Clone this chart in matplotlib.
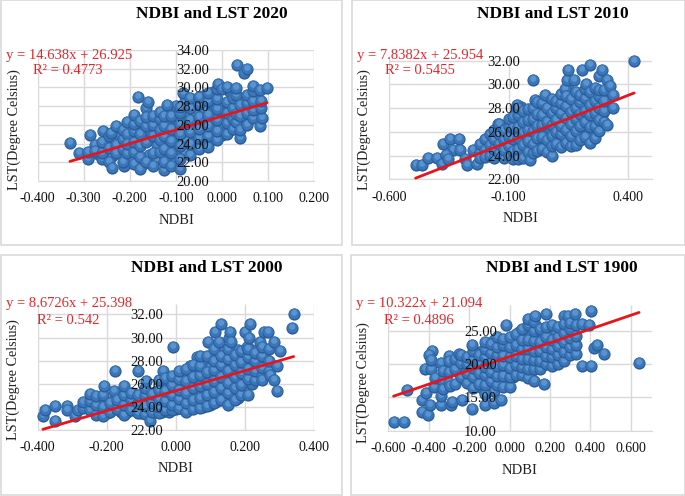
import matplotlib
matplotlib.use("Agg")
from matplotlib import pyplot as plt
from matplotlib.markers import MarkerStyle
from matplotlib.patches import Rectangle
from matplotlib.transforms import Affine2D

plt.rcParams["font.family"] = ["Liberation Serif", "DejaVu Serif"]

W, H = 685, 496

# values (NDBI, LST)
# inner_* = the packed middle of each cloud, drawn first; pts_* = the points that show clearly
inner_2020 = [
    (-0.27, 22.9), (-0.252, 23.9), (-0.238, 22.7), (-0.222, 24.8), (-0.212, 21.6), (-0.198, 22.5), (-0.197, 24.7),
    (-0.184, 23.6), (-0.171, 21.8), (-0.172, 24.6), (-0.172, 26.0), (-0.158, 22.8), (-0.157, 25.2), (-0.143, 22.2),
    (-0.142, 23.8), (-0.143, 26.2), (-0.13, 25.0), (-0.117, 22.4), (-0.118, 24.1), (-0.117, 26.4), (-0.117, 27.5),
    (-0.101, 21.9), (-0.1, 23.2), (-0.1, 24.6), (-0.1, 25.5), (-0.1, 26.6), (-0.1, 28.0), (-0.081, 23.0), (-0.08, 24.4),
    (-0.08, 25.7), (-0.08, 27.0), (-0.08, 28.5), (-0.06, 23.5), (-0.06, 24.9), (-0.06, 26.2), (-0.06, 27.3),
    (-0.06, 28.6), (-0.04, 24.1), (-0.04, 25.3), (-0.04, 26.4), (-0.04, 27.7), (-0.04, 29.1), (-0.02, 24.5),
    (-0.02, 25.6), (-0.02, 26.9), (-0.02, 28.2), (-0.02, 29.5), (0.0, 24.9), (0.0, 26.0), (0.0, 27.1), (0.0, 28.2),
    (0.018, 25.4), (0.018, 27.0), (0.018, 28.2), (0.018, 29.5), (0.035, 25.9), (0.035, 27.5), (0.035, 28.7),
    (0.048, 26.4), (0.048, 27.7), (0.048, 28.9), (0.062, 27.0), (0.062, 28.1), (0.075, 27.2), (0.075, 28.2), (0.075, 29.2),
]
pts_2020 = [
    (-0.33, 24.1), (-0.31, 23.0), (-0.29, 22.4), (-0.29, 23.1), (-0.287, 24.9), (-0.275, 23.8), (-0.275, 23.2),
    (-0.26, 22.4), (-0.26, 23.0), (-0.258, 25.3), (-0.26, 24.2), (-0.245, 22.0), (-0.245, 23.5), (-0.245, 24.8),
    (-0.24, 25.1), (-0.238, 21.4), (-0.23, 23.8), (-0.23, 25.9), (-0.23, 23.0), (-0.215, 22.0), (-0.215, 24.5),
    (-0.215, 25.4), (-0.215, 23.4), (-0.205, 26.3), (-0.205, 23.0), (-0.205, 25.0), (-0.205, 24.0), (-0.19, 21.8),
    (-0.19, 23.1), (-0.19, 24.2), (-0.19, 25.3), (-0.19, 26.1), (-0.19, 27.1), (-0.178, 21.3), (-0.178, 22.6),
    (-0.178, 23.7), (-0.178, 25.0), (-0.178, 26.4), (-0.182, 29.0), (-0.165, 22.0), (-0.165, 24.2), (-0.165, 25.9),
    (-0.165, 27.8), (-0.165, 26.8), (-0.16, 28.4), (-0.15, 21.6), (-0.15, 23.0), (-0.15, 24.8), (-0.15, 26.0),
    (-0.15, 26.9), (-0.135, 23.1), (-0.135, 24.4), (-0.135, 25.4), (-0.135, 26.6), (-0.135, 27.4), (-0.125, 21.2),
    (-0.125, 22.0), (-0.125, 23.4), (-0.125, 24.8), (-0.125, 25.9), (-0.125, 26.9), (-0.12, 28.1), (-0.11, 21.6),
    (-0.11, 23.0), (-0.11, 24.3), (-0.11, 25.6), (-0.11, 26.9), (-0.09, 21.3), (-0.09, 22.4), (-0.09, 23.7),
    (-0.09, 25.0), (-0.09, 26.1), (-0.09, 27.3), (-0.09, 27.9), (-0.085, 29.4), (-0.07, 22.8), (-0.07, 24.0),
    (-0.07, 25.2), (-0.07, 26.5), (-0.07, 27.8), (-0.07, 28.9), (-0.05, 23.4), (-0.05, 24.6), (-0.05, 25.6),
    (-0.05, 26.8), (-0.05, 28.2), (-0.05, 29.0), (-0.03, 23.6), (-0.03, 24.8), (-0.03, 25.9), (-0.03, 27.1),
    (-0.03, 28.5), (-0.03, 29.4), (-0.01, 24.4), (-0.01, 25.3), (-0.01, 26.5), (-0.01, 27.7), (-0.01, 28.8),
    (-0.01, 29.8), (-0.008, 30.4), (0.0, 29.8), (0.01, 25.0), (0.01, 26.2), (0.01, 27.3), (0.01, 28.4), (0.01, 30.0),
    (0.025, 25.6), (0.025, 26.6), (0.025, 27.8), (0.025, 28.9), (0.03, 26.3), (0.03, 27.2), (0.03, 29.2), (0.03, 29.9),
    (0.033, 32.4), (0.04, 24.6), (0.04, 25.5), (0.04, 26.9), (0.04, 28.1), (0.047, 31.5), (0.055, 32.0), (0.055, 26.0),
    (0.055, 27.3), (0.055, 28.3), (0.055, 29.2), (0.068, 26.7), (0.068, 27.6), (0.068, 28.6), (0.068, 29.6),
    (0.068, 30.1), (0.082, 25.9), (0.086, 26.7), (0.085, 27.8), (0.085, 28.6), (0.082, 29.7), (0.098, 29.9),
]
inner_2010 = [
    (-0.21, 24.7), (-0.19, 24.3), (-0.19, 25.2), (-0.17, 24.3), (-0.17, 25.2), (-0.15, 24.6), (-0.15, 25.5),
    (-0.13, 24.1), (-0.13, 24.9), (-0.13, 25.8), (-0.11, 24.4), (-0.11, 25.2), (-0.11, 26.1), (-0.09, 24.1),
    (-0.09, 25.0), (-0.09, 25.9), (-0.09, 26.8), (-0.07, 24.1), (-0.07, 25.1), (-0.07, 26.0), (-0.07, 26.9),
    (-0.07, 27.6), (-0.05, 24.3), (-0.05, 25.2), (-0.05, 26.1), (-0.05, 27.1), (-0.05, 28.1), (-0.03, 24.4),
    (-0.03, 25.5), (-0.03, 26.5), (-0.03, 27.3), (-0.01, 24.8), (-0.01, 25.7), (-0.01, 26.7), (-0.01, 27.6),
    (0.01, 24.8), (0.01, 25.9), (0.01, 26.9), (0.01, 27.8), (0.03, 25.1), (0.03, 26.1), (0.03, 27.0), (0.03, 28.1),
    (0.05, 25.0), (0.05, 26.2), (0.05, 27.7), (0.07, 24.5), (0.07, 25.6), (0.07, 26.3), (0.07, 27.2), (0.07, 28.3),
    (0.09, 25.2), (0.09, 26.3), (0.09, 27.2), (0.09, 28.2), (0.11, 25.4), (0.11, 26.4), (0.11, 27.4), (0.11, 28.9),
    (0.13, 25.3), (0.13, 26.1), (0.13, 27.0), (0.13, 28.0), (0.13, 29.0), (0.15, 25.5), (0.15, 26.5), (0.15, 27.6),
    (0.15, 28.6), (0.15, 29.6), (0.17, 25.3), (0.17, 26.3), (0.17, 27.4), (0.17, 28.3), (0.17, 29.2), (0.19, 25.6),
    (0.19, 26.7), (0.19, 27.8), (0.19, 28.8), (0.21, 25.9), (0.21, 27.0), (0.21, 28.0), (0.21, 29.3), (0.23, 25.3),
    (0.23, 26.2), (0.23, 27.2), (0.23, 28.6), (0.25, 25.8), (0.25, 26.9), (0.25, 28.0), (0.25, 29.0), (0.27, 26.3),
    (0.27, 27.3), (0.27, 28.3), (0.27, 29.3), (0.29, 27.4), (0.29, 28.4), (0.29, 29.2),
]
pts_2010 = [
    (-0.49, 23.2), (-0.465, 23.2), (-0.44, 23.8), (-0.40, 23.8), (-0.38, 23.3), (-0.374, 24.95), (-0.346, 25.4),
    (-0.308, 25.4), (-0.335, 24.5), (-0.304, 24.5), (-0.363, 24.1), (-0.353, 23.7), (-0.283, 23.7), (-0.273, 23.2),
    (-0.232, 23.3), (-0.248, 24.5), (-0.22, 24.3), (-0.22, 25.0), (-0.22, 23.8), (-0.20, 25.4), (-0.20, 24.5),
    (-0.20, 23.9), (-0.18, 24.0), (-0.18, 24.9), (-0.18, 25.8), (-0.16, 23.8), (-0.16, 24.6), (-0.16, 25.4),
    (-0.16, 26.2), (-0.146, 26.7), (-0.14, 24.2), (-0.14, 25.0), (-0.14, 25.8), (-0.14, 26.7), (-0.12, 23.8),
    (-0.12, 24.5), (-0.12, 25.3), (-0.12, 26.2), (-0.10, 24.0), (-0.10, 24.8), (-0.10, 25.6), (-0.10, 26.5),
    (-0.10, 27.1), (-0.08, 23.7), (-0.08, 24.4), (-0.08, 25.4), (-0.08, 26.3), (-0.08, 27.3), (-0.067, 28.3),
    (-0.06, 23.7), (-0.06, 24.6), (-0.06, 25.5), (-0.06, 26.4), (-0.06, 27.4), (-0.06, 28.0), (-0.04, 23.8),
    (-0.04, 24.9), (-0.04, 25.9), (-0.04, 26.8), (-0.04, 27.8), (-0.02, 24.3), (-0.02, 25.2), (-0.02, 26.2),
    (-0.02, 27.0), (-0.02, 27.9), (-0.011, 23.6), (0.0, 30.4), (0.0, 24.2), (0.0, 25.0), (0.0, 26.1), (0.0, 27.1),
    (0.0, 28.0), (0.01, 28.7), (0.02, 24.4), (0.02, 25.5), (0.02, 26.5), (0.02, 27.5), (0.02, 28.5), (0.04, 24.6),
    (0.04, 25.6), (0.04, 26.6), (0.04, 27.4), (0.04, 28.4), (0.05, 29.1), (0.06, 24.3), (0.06, 25.3), (0.06, 26.8),
    (0.06, 28.0), (0.08, 24.0), (0.08, 24.8), (0.08, 25.7), (0.08, 26.6), (0.08, 27.6), (0.08, 28.8), (0.10, 25.0),
    (0.10, 26.0), (0.10, 27.0), (0.10, 28.0), (0.10, 28.6), (0.12, 24.7), (0.12, 25.8), (0.12, 26.5), (0.12, 27.6),
    (0.12, 28.4), (0.12, 29.2), (0.135, 29.6), (0.14, 25.1), (0.14, 26.2), (0.14, 27.2), (0.14, 28.2), (0.14, 29.0),
    (0.146, 30.4), (0.15, 31.2), (0.16, 24.8), (0.16, 25.7), (0.16, 26.7), (0.16, 27.7), (0.16, 28.8), (0.174, 30.4),
    (0.18, 24.9), (0.18, 26.1), (0.18, 27.1), (0.18, 28.0), (0.18, 29.4), (0.20, 25.3), (0.20, 26.5), (0.20, 27.5),
    (0.20, 28.5), (0.20, 29.1), (0.208, 31.2), (0.22, 25.6), (0.22, 26.8), (0.22, 27.8), (0.22, 28.9), (0.22, 29.6),
    (0.222, 30.0), (0.24, 31.6), (0.24, 25.1), (0.24, 26.4), (0.24, 27.4), (0.24, 28.3), (0.24, 29.4), (0.26, 25.5),
    (0.26, 26.5), (0.26, 27.6), (0.26, 28.6), (0.26, 29.7), (0.278, 30.7), (0.28, 26.1), (0.28, 27.0), (0.28, 28.0),
    (0.28, 29.0), (0.28, 29.5), (0.289, 31.2), (0.30, 26.8), (0.30, 27.8), (0.30, 28.6), (0.30, 29.5), (0.31, 26.6),
    (0.31, 30.4), (0.324, 29.9), (0.338, 29.1), (0.338, 28.0), (0.425, 32.0),
]
inner_2000 = [
    (-0.26, 24.2), (-0.24, 24.0), (-0.24, 24.7), (-0.22, 23.7), (-0.22, 24.5), (-0.20, 23.5), (-0.20, 24.4),
    (-0.18, 23.9), (-0.18, 24.6), (-0.16, 23.6), (-0.16, 24.3), (-0.16, 25.0), (-0.14, 23.6), (-0.14, 24.2),
    (-0.14, 24.9), (-0.12, 23.7), (-0.12, 24.4), (-0.12, 25.1), (-0.10, 23.5), (-0.10, 24.2), (-0.10, 24.8),
    (-0.08, 23.5), (-0.08, 24.2), (-0.08, 24.9), (-0.06, 23.6), (-0.06, 24.5), (-0.06, 25.3), (-0.04, 23.6),
    (-0.04, 24.3), (-0.04, 25.1), (-0.04, 26.0), (-0.02, 23.6), (-0.02, 24.7), (-0.02, 25.6), (-0.02, 26.3),
    (0.0, 23.8), (0.0, 24.5), (0.0, 25.3), (0.0, 26.2), (0.02, 23.8), (0.02, 24.6), (0.02, 25.6), (0.02, 26.7),
    (0.04, 23.8), (0.04, 24.8), (0.04, 25.8), (0.04, 26.9), (0.04, 27.5), (0.06, 24.1), (0.06, 25.1), (0.06, 26.2),
    (0.06, 27.2), (0.06, 28.3), (0.08, 24.0), (0.08, 24.9), (0.08, 25.9), (0.08, 26.9), (0.08, 27.8), (0.10, 24.2),
    (0.10, 25.2), (0.10, 26.2), (0.10, 27.4), (0.10, 28.3), (0.12, 24.5), (0.12, 25.4), (0.12, 26.5), (0.12, 27.5),
    (0.12, 28.5), (0.14, 24.9), (0.14, 25.9), (0.14, 26.9), (0.14, 27.9), (0.14, 28.9), (0.16, 24.9), (0.16, 25.9),
    (0.16, 26.9), (0.16, 27.9), (0.18, 24.8), (0.18, 25.8), (0.18, 26.8), (0.18, 27.8), (0.18, 28.9), (0.20, 25.3),
    (0.20, 26.3), (0.20, 27.4), (0.20, 28.4), (0.22, 26.0), (0.22, 27.1), (0.22, 28.1), (0.22, 28.9), (0.24, 26.9),
    (0.24, 27.7), (0.24, 28.5), (0.26, 27.0), (0.26, 28.1), (0.26, 29.0),
]
pts_2000 = [
    (-0.385, 23.2), (-0.378, 23.7), (-0.35, 24.1), (-0.35, 22.8), (-0.315, 24.1), (-0.314, 23.7), (-0.291, 23.2),
    (-0.282, 23.7), (-0.27, 23.9), (-0.27, 24.4), (-0.25, 23.7), (-0.25, 24.5), (-0.25, 25.1), (-0.23, 23.3),
    (-0.23, 24.2), (-0.23, 24.9), (-0.21, 23.2), (-0.21, 24.0), (-0.21, 25.0), (-0.209, 25.8), (-0.19, 23.6),
    (-0.19, 24.3), (-0.178, 25.4), (-0.176, 27.1), (-0.17, 23.8), (-0.17, 24.6), (-0.15, 23.3), (-0.15, 24.2),
    (-0.15, 25.0), (-0.149, 25.8), (-0.13, 23.7), (-0.13, 24.6), (-0.13, 25.2), (-0.11, 27.1), (-0.11, 23.5),
    (-0.11, 24.3), (-0.11, 25.0), (-0.09, 23.4), (-0.09, 24.1), (-0.09, 25.0), (-0.09, 25.6), (-0.086, 26.2),
    (-0.076, 22.8), (-0.07, 23.6), (-0.07, 24.3), (-0.07, 25.1), (-0.05, 23.5), (-0.05, 24.0), (-0.05, 24.7),
    (-0.05, 25.5), (-0.05, 26.3), (-0.036, 27.1), (-0.03, 23.7), (-0.03, 24.5), (-0.03, 25.4), (-0.03, 26.5),
    (-0.01, 23.7), (-0.01, 24.2), (-0.01, 25.0), (-0.01, 25.9), (-0.01, 26.7), (-0.009, 29.2), (0.01, 23.9),
    (0.01, 24.7), (0.01, 25.5), (0.01, 26.4), (0.01, 27.1), (0.03, 23.6), (0.03, 24.3), (0.03, 25.2), (0.03, 26.2),
    (0.03, 27.3), (0.05, 23.8), (0.05, 24.6), (0.05, 25.6), (0.05, 26.6), (0.05, 27.6), (0.07, 23.9), (0.07, 24.8),
    (0.07, 25.8), (0.07, 26.8), (0.07, 27.5), (0.07, 28.4), (0.09, 24.1), (0.09, 25.0), (0.09, 26.0), (0.09, 27.0),
    (0.09, 28.4), (0.092, 29.6), (0.11, 24.3), (0.11, 25.3), (0.11, 26.2), (0.11, 27.2), (0.11, 28.0), (0.11, 29.0),
    (0.114, 30.5), (0.124, 29.6), (0.13, 31.2), (0.13, 24.6), (0.13, 25.6), (0.13, 26.6), (0.13, 27.6), (0.13, 28.4),
    (0.15, 24.2), (0.15, 25.2), (0.15, 26.1), (0.15, 27.1), (0.15, 28.1), (0.15, 29.0), (0.153, 30.0), (0.157, 30.5),
    (0.16, 29.6), (0.17, 24.6), (0.17, 25.6), (0.17, 26.6), (0.17, 27.6), (0.17, 28.5), (0.19, 25.0), (0.19, 25.9),
    (0.19, 26.9), (0.19, 27.9), (0.19, 28.8), (0.199, 30.5), (0.206, 29.2), (0.21, 25.0), (0.21, 26.4), (0.21, 27.3),
    (0.21, 28.3), (0.21, 29.0), (0.213, 30.0), (0.215, 31.2), (0.23, 26.3), (0.23, 27.1), (0.23, 28.0), (0.23, 28.7),
    (0.244, 29.6), (0.25, 26.7), (0.25, 27.4), (0.25, 28.4), (0.25, 29.2), (0.249, 26.3), (0.254, 30.5), (0.268, 30.5),
    (0.27, 27.1), (0.27, 28.0), (0.27, 29.0), (0.273, 26.8), (0.285, 26.3), (0.285, 29.6), (0.292, 25.4), (0.292, 27.5),
    (0.302, 28.8), (0.336, 30.8), (0.341, 32.0),
]
inner_1900 = [
    (-0.255, 18.8), (-0.225, 19.3), (-0.225, 17.8), (-0.195, 17.8), (-0.195, 19.2), (-0.195, 20.6), (-0.165, 17.2),
    (-0.165, 18.6), (-0.165, 20.0), (-0.165, 21.3), (-0.135, 16.4), (-0.135, 17.8), (-0.135, 19.2), (-0.135, 20.6),
    (-0.135, 22.0), (-0.105, 17.0), (-0.105, 18.4), (-0.105, 19.9), (-0.105, 21.4), (-0.105, 22.8), (-0.075, 16.0),
    (-0.075, 17.9), (-0.075, 19.4), (-0.075, 21.0), (-0.075, 22.4), (-0.075, 23.6), (-0.045, 17.4), (-0.045, 19.0),
    (-0.045, 20.6), (-0.045, 22.0), (-0.045, 23.4), (-0.015, 17.2), (-0.015, 18.8), (-0.015, 20.2), (-0.015, 21.8),
    (-0.015, 23.2), (0.015, 18.0), (0.015, 19.2), (0.015, 20.6), (0.015, 22.0), (0.015, 23.6), (0.045, 18.8),
    (0.045, 20.2), (0.045, 21.7), (0.045, 23.2), (0.045, 24.8), (0.075, 18.6), (0.075, 20.1), (0.075, 21.5),
    (0.075, 22.9), (0.075, 24.4), (0.105, 18.8), (0.105, 20.2), (0.105, 21.4), (0.105, 22.8), (0.105, 24.4),
    (0.135, 19.5), (0.135, 20.9), (0.135, 22.4), (0.135, 23.9), (0.135, 25.5), (0.165, 19.9), (0.165, 21.2),
    (0.165, 22.6), (0.165, 24.2), (0.195, 20.4), (0.195, 21.6), (0.195, 23.0), (0.195, 24.6), (0.225, 20.4),
    (0.225, 21.8), (0.225, 23.1), (0.225, 24.8), (0.255, 21.0), (0.255, 22.2), (0.255, 23.6), (0.255, 25.0),
    (0.285, 21.6), (0.285, 22.9), (0.285, 24.2), (0.285, 25.4), (0.315, 22.2), (0.315, 23.4), (0.315, 24.8),
]
pts_1900 = [
    (-0.574, 11.3), (-0.524, 11.3), (-0.507, 16.05), (-0.433, 12.8), (-0.405, 12.3), (-0.433, 14.65), (-0.412, 15.65),
    (-0.417, 19.3), (-0.388, 19.2), (-0.383, 21.9), (-0.40, 21.4), (-0.388, 20.65), (-0.392, 13.8), (-0.375, 16.5),
    (-0.367, 17.9), (-0.339, 13.8), (-0.337, 15.15), (-0.337, 20.15), (-0.33, 17.5), (-0.33, 16.3), (-0.33, 19.0),
    (-0.30, 21.15), (-0.30, 18.8), (-0.30, 17.2), (-0.30, 20.4), (-0.293, 16.65), (-0.289, 13.8), (-0.284, 14.3),
    (-0.27, 17.0), (-0.27, 19.2), (-0.27, 20.8), (-0.251, 21.5), (-0.24, 20.2), (-0.24, 18.0), (-0.24, 21.3),
    (-0.235, 14.65), (-0.21, 17.2), (-0.21, 18.6), (-0.21, 20.0), (-0.21, 21.0), (-0.185, 13.25), (-0.18, 16.4),
    (-0.18, 18.0), (-0.18, 19.4), (-0.18, 20.6), (-0.18, 22.0), (-0.185, 22.9), (-0.15, 17.0), (-0.15, 18.7),
    (-0.15, 20.1), (-0.15, 21.4), (-0.12, 15.5), (-0.119, 13.8), (-0.12, 16.9), (-0.12, 18.3), (-0.12, 19.6),
    (-0.12, 21.0), (-0.12, 22.3), (-0.12, 23.3), (-0.09, 17.4), (-0.09, 18.8), (-0.09, 20.2), (-0.09, 21.7),
    (-0.09, 23.0), (-0.078, 14.15), (-0.06, 16.8), (-0.06, 18.2), (-0.06, 19.7), (-0.06, 21.3), (-0.06, 22.6),
    (-0.06, 24.0), (-0.041, 14.65), (-0.03, 16.5), (-0.03, 18.2), (-0.03, 19.8), (-0.03, 21.2), (-0.03, 22.8),
    (-0.03, 23.8), (-0.02, 25.8), (0.0, 16.6), (0.0, 18.0), (0.0, 19.4), (0.0, 21.0), (0.0, 22.6), (0.0, 24.0),
    (0.03, 18.4), (0.03, 19.8), (0.03, 21.2), (0.03, 22.8), (0.03, 24.5), (0.06, 18.3), (0.06, 19.6), (0.06, 20.8),
    (0.06, 22.3), (0.06, 23.6), (0.06, 25.2), (0.09, 17.9), (0.09, 19.3), (0.09, 20.7), (0.09, 22.2), (0.09, 23.6),
    (0.09, 25.9), (0.09, 26.7), (0.12, 17.4), (0.12, 19.2), (0.12, 20.6), (0.12, 21.9), (0.12, 23.4), (0.12, 25.0),
    (0.12, 26.3), (0.124, 27.15), (0.15, 19.2), (0.15, 20.5), (0.15, 21.9), (0.15, 23.3), (0.15, 25.2), (0.17, 17.0),
    (0.179, 27.55), (0.18, 20.0), (0.18, 21.2), (0.18, 22.6), (0.18, 24.0), (0.18, 25.6), (0.21, 19.7), (0.21, 21.0),
    (0.21, 22.3), (0.21, 23.6), (0.21, 25.8), (0.24, 20.0), (0.24, 21.4), (0.24, 22.7), (0.24, 24.1), (0.24, 25.6),
    (0.269, 27.15), (0.27, 20.5), (0.27, 21.8), (0.27, 23.3), (0.27, 24.6), (0.27, 26.0), (0.289, 27.15), (0.30, 21.4),
    (0.30, 22.6), (0.30, 23.9), (0.30, 25.3), (0.30, 26.2), (0.322, 27.55), (0.33, 21.5), (0.33, 22.8), (0.33, 24.2),
    (0.33, 25.8), (0.36, 19.75), (0.36, 26.0), (0.393, 25.8), (0.402, 28.0), (0.405, 19.75), (0.418, 22.4), (0.435, 22.8),
    (0.468, 21.5), (0.641, 20.15),
]

xticks_2020 = [-0.4, -0.3, -0.2, -0.1, 0.0, 0.1, 0.2]
yticks_2020 = [20, 22, 24, 26, 28, 30, 32, 34]
xticks_2010 = [-0.6, -0.1, 0.4]
yticks_2010 = [22, 24, 26, 28, 30, 32]
xticks_2000 = [-0.4, -0.2, 0.0, 0.2, 0.4]
yticks_2000 = [22, 24, 26, 28, 30, 32]
xticks_1900 = [-0.6, -0.4, -0.2, 0.0, 0.2, 0.4, 0.6]
yticks_1900 = [10, 15, 20, 25]

fig = plt.figure(figsize=(W / 100, H / 100), dpi=100)

ball_base = MarkerStyle("o")
ball_mid = MarkerStyle("o", transform=Affine2D().scale(0.86).translate(-0.01, 0.05))
ball_top = MarkerStyle("o", transform=Affine2D().scale(0.5).translate(-0.02, 0.14))


def put_text(px, py, s, **kw):
    fig.text(px / W, 1 - py / H, s, **kw)


def panel(frame, box, xlim, ylim, xticks, yticks, pts, slope, inter, title, eq, r2, pos):
    fig.add_artist(Rectangle((frame[0] / W, 1 - frame[3] / H), (frame[2] - frame[0]) / W,
                             (frame[3] - frame[1]) / H, transform=fig.transFigure,
                             fc="white", ec="#D9D9D9", lw=1.2, zorder=-1))
    ax = fig.add_axes([box[0] / W, 1 - box[3] / H, (box[2] - box[0]) / W, (box[3] - box[1]) / H])
    ax.patch.set_alpha(0)
    ax.set_xlim(xlim)
    ax.set_ylim(ylim)
    ax.set_xticks(xticks, [f"{v:.3f}" for v in xticks])
    ax.set_yticks(yticks, [f"{v:.2f}" for v in yticks])
    # grid as plain lines so the y labels can sit on top of the balls
    ax.hlines(yticks, xlim[0], xlim[1], color="#D9D9D9", lw=1.0, zorder=1)
    ax.vlines(xticks, ylim[0], ylim[1], color="#D9D9D9", lw=1.0, zorder=1)
    for s in ["top", "right", "left"]:
        ax.spines[s].set_visible(False)
    ax.spines["bottom"].set_color("#D9D9D9")
    ax.spines["left"].set_position(("data", 0))
    ax.tick_params(axis="x", length=0, pad=8, labelsize=10, colors="#111111")
    ax.tick_params(axis="y", length=0, pad=9, labelsize=10.5, colors="#111111")
    ax.yaxis.set_zorder(6)

    for x, y in pts:
        ax.plot(x, y, marker=ball_base, ms=8.8, mfc="#2A5C98", mew=0, zorder=3, clip_on=False)
        ax.plot(x, y, marker=ball_mid, ms=8.8, mfc="#3A76B8", mew=0, zorder=3, clip_on=False)
        ax.plot(x, y, marker=ball_top, ms=8.8, mfc="#5A94D0", mew=0, zorder=3, clip_on=False)

    xs = [p[0] for p in pts]
    x0, x1 = min(xs), max(xs)
    ax.plot([x0, x1], [slope * x0 + inter, slope * x1 + inter], color="#E8141C", lw=2.0,
            solid_capstyle="round", zorder=5, clip_on=False)

    put_text(pos["title"][0], pos["title"][1], title, fontsize=12.5, fontweight="bold",
             ha="center", va="center", color="black")
    put_text(pos["eq"][0], pos["eq"][1], eq, fontsize=10.5, color="#E3262B", ha="left", va="center", zorder=10)
    put_text(pos["r2"][0], pos["r2"][1], r2, fontsize=10.5, color="#E3262B", ha="center", va="center", zorder=10)
    put_text(pos["xl"][0], pos["xl"][1], "NDBI", fontsize=10.5, ha="center", va="center", color="#222222")
    put_text(pos["yl"][0], pos["yl"][1], "LST(Degree Celsius)", fontsize=10.2, rotation=90,
             ha="center", va="center", color="#222222")


panel((0.5, 0.5, 342, 245), (37.7, 50, 314, 181), (-0.4, 0.2), (20, 34), xticks_2020, yticks_2020,
      inner_2020 + pts_2020, 14.638, 26.925, "NDBI and LST 2020", "y = 14.638x + 26.925", "R² = 0.4773",
      {"title": (212, 14), "eq": (5.5, 55), "r2": (68, 71), "xl": (177, 220), "yl": (14, 130)})
panel((352, 0.5, 684.5, 245), (389.3, 56, 652, 179.5), (-0.6, 0.5), (22, 32.4), xticks_2010, yticks_2010,
      inner_2010 + pts_2010, 7.8382, 25.954, "NDBI and LST 2010", "y = 7.8382x + 25.954", "R² = 0.5455",
      {"title": (553, 14), "eq": (357, 55), "r2": (420, 71), "xl": (521, 218), "yl": (364, 130)})
panel((1, 255, 342, 495), (37.7, 304, 314, 430), (-0.4, 0.4), (22, 32.9), xticks_2000, yticks_2000,
      inner_2000 + pts_2000, 8.6726, 25.398, "NDBI and LST 2000", "y = 8.6726x + 25.398", "R² = 0.542",
      {"title": (207, 268), "eq": (5.5, 304), "r2": (68, 321), "xl": (176, 468), "yl": (13, 380)})
panel((351, 255, 684.5, 495), (388.3, 304.5, 652, 430.7), (-0.6, 0.705), (10, 28.9), xticks_1900, yticks_1900,
      inner_1900 + pts_1900, 10.322, 21.094, "NDBI and LST 1900", "y = 10.322x + 21.094", "R² = 0.4896",
      {"title": (562, 268), "eq": (356, 303), "r2": (419, 320), "xl": (520, 470), "yl": (363, 383)})

fig.savefig("out.png", dpi=100)
